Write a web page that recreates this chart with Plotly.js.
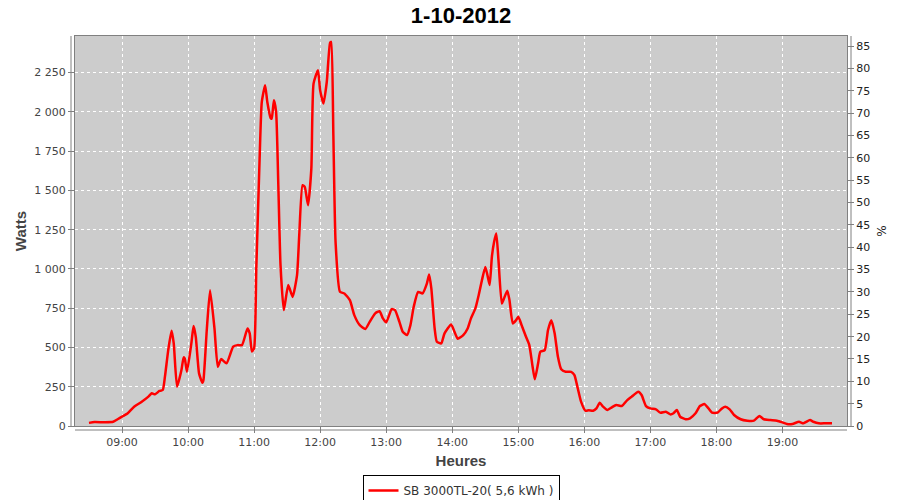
<!DOCTYPE html>
<html>
<head>
<meta charset="utf-8">
<script src="https://cdn.plot.ly/plotly-3.0.1.min.js"></script>
<style>html,body{margin:0;padding:0;background:#fff;}#chart{width:900px;height:500px;}</style>
</head>
<body>
<div id="chart"></div>
<script>
var chartDate = "2012-10-01";
var chartTitle = "1-10-2012";
var seriesName = "SB 3000TL-20( 5,6 kWh )";
var times = ["08:30","08:35","08:44","08:52","08:56","09:01","09:05","09:11","09:17","09:24","09:27","09:30","09:34","09:37","09:39","09:42","09:45","09:47","09:50","09:54","09:56","09:57","09:59","10:03","10:05","10:07","10:10","10:13","10:14","10:17","10:20","10:24","10:27","10:30","10:35","10:41","10:45","10:49","10:54","10:56","10:58","11:00","11:02","11:05","11:07","11:10","11:12","11:15","11:16","11:18","11:20","11:22","11:24","11:27","11:31","11:35","11:39","11:41","11:44","11:46","11:49","11:52","11:54","11:58","12:00","12:03","12:06","12:09","12:10","12:12","12:14","12:18","12:22","12:27","12:31","12:36","12:41","12:45","12:50","12:54","12:57","13:00","13:05","13:08","13:12","13:15","13:19","13:22","13:25","13:29","13:33","13:37","13:39","13:41","13:44","13:46","13:50","13:53","13:59","14:02","14:05","14:10","14:14","14:17","14:21","14:24","14:27","14:30","14:32","14:34","14:36","14:38","14:40","14:42","14:45","14:47","14:50","14:52","14:55","14:58","15:00","15:03","15:07","15:10","15:13","15:15","15:18","15:20","15:24","15:27","15:30","15:33","15:36","15:39","15:43","15:48","15:51","15:54","15:57","16:01","16:04","16:08","16:11","16:14","16:17","16:21","16:25","16:29","16:34","16:39","16:43","16:49","16:52","16:56","17:00","17:05","17:09","17:14","17:18","17:21","17:24","17:27","17:32","17:36","17:41","17:45","17:49","17:52","17:56","18:01","18:05","18:08","18:12","18:16","18:22","18:28","18:34","18:39","18:43","18:49","18:55","19:00","19:04","19:09","19:15","19:19","19:25","19:28","19:33","19:39","19:45"];
var watts = [20,25,24,27,43,64,80,123,150,187,208,202,223,229,314,483,606,526,250,356,437,430,345,526,636,568,335,275,293,611,865,621,377,426,399,505,515,515,621,590,474,494,1003,1703,2063,2169,2063,1961,1957,2074,1999,1533,1024,738,897,822,960,1215,1533,1522,1406,1639,2180,2265,2137,2053,2190,2440,2445,1851,1172,854,844,801,706,642,617,663,717,731,685,660,744,738,663,600,579,642,759,854,844,908,965,876,621,536,526,590,647,600,555,579,621,685,749,833,929,1013,960,897,1077,1172,1226,1056,780,812,861,801,653,674,695,642,568,515,377,297,399,473,483,611,674,590,441,361,345,345,324,240,155,97,100,97,112,148,123,102,119,134,127,165,187,218,197,127,112,106,85,91,74,81,102,59,43,49,81,127,140,119,85,85,112,123,106,70,43,34,34,64,43,38,34,23,13,13,27,17,38,27,17,17,17];
var xRange = ["08:17:18","19:58:36"];
var wattsRange = [0, 2483];
var pctRange = [0, 87.3];

var xs = times.map(function(t){ return chartDate + " " + t; });
var tickFont = {family: "DejaVu Sans", size: 11, color: "#444444"};
var axisTitleFont = {family: "Liberation Sans", size: 15, color: "#444444", weight: "bold"};
var W = 772, H = 390;

var data = [
  {x: xs, y: watts, type: "scatter", mode: "lines", name: seriesName,
   line: {color: "#ff0000", width: 2.5, shape: "spline", smoothing: 0.5}, hoverinfo: "skip"},
  {x: [xs[0]], y: [null], type: "scatter", mode: "lines", yaxis: "y2", showlegend: false, hoverinfo: "skip"}
];

var layout = {
  width: 900, height: 500,
  margin: {l: 75, r: 53, t: 36, b: 74, autoexpand: false},
  paper_bgcolor: "#ffffff",
  plot_bgcolor: "#cccccc",
  separators: ", ",
  title: {text: chartTitle, font: {family: "Liberation Sans", size: 22, color: "#000000", weight: "bold"},
          x: 0.5, xanchor: "center", y: 0.985, yanchor: "top", xref: "paper"},
  showlegend: true,
  legend: {orientation: "h", x: 0.5, xanchor: "center", xref: "paper", y: 0.05, yanchor: "top", yref: "container",
           bordercolor: "#000000", borderwidth: 1, bgcolor: "#ffffff", itemwidth: 30,
           font: {family: "DejaVu Sans", size: 12, color: "#333333"}},
  xaxis: {type: "date", range: [chartDate + " " + xRange[0], chartDate + " " + xRange[1]],
          tick0: chartDate + " 09:00", dtick: 3600000, tickformat: "%H:%M",
          showgrid: true, gridcolor: "#ffffff", griddash: "3px,3px", gridwidth: 1,
          showline: true, mirror: true, linecolor: "#808080", linewidth: 1,
          ticks: "outside", ticklen: 6, tickcolor: "#808080", tickfont: tickFont,
          automargin: false,
          title: {text: "Heures", font: axisTitleFont, standoff: 7},
          zeroline: false, fixedrange: true},
  yaxis: {range: wattsRange, dtick: 250, tick0: 0, tickformat: ",d",
          showgrid: true, gridcolor: "#ffffff", griddash: "3px,3px", gridwidth: 1,
          showline: true, mirror: true, linecolor: "#808080", linewidth: 1,
          ticks: "outside", ticklen: 6, tickcolor: "#808080", tickfont: tickFont,
          automargin: false,
          title: {text: "Watts", font: axisTitleFont, standoff: 4},
          zeroline: false, fixedrange: true},
  yaxis2: {range: pctRange, dtick: 5, tick0: 0, overlaying: "y", side: "right",
           showgrid: false, zeroline: false, showline: false,
           ticks: "outside", ticklen: 6, tickcolor: "#808080",
           tickfont: {family: "DejaVu Sans", size: 11, color: "#222222"},
           automargin: false,
           title: {text: "%", font: {family: "DejaVu Sans", size: 12, color: "#222222"}, standoff: 8},
           fixedrange: true},
  shapes: [
    {type: "line", xref: "paper", yref: "paper", x0: -4/W, x1: -4/W, y0: 0, y1: 1, line: {color: "#808080", width: 1}},
    {type: "line", xref: "paper", yref: "paper", x0: 1 + 4/W, x1: 1 + 4/W, y0: 0, y1: 1, line: {color: "#808080", width: 1}},
    {type: "line", xref: "paper", yref: "paper", x0: 0, x1: 1, y0: -4/H, y1: -4/H, line: {color: "#808080", width: 1}}
  ]
};

Plotly.newPlot("chart", data, layout, {staticPlot: true, displayModeBar: false});
</script>
</body>
</html>
